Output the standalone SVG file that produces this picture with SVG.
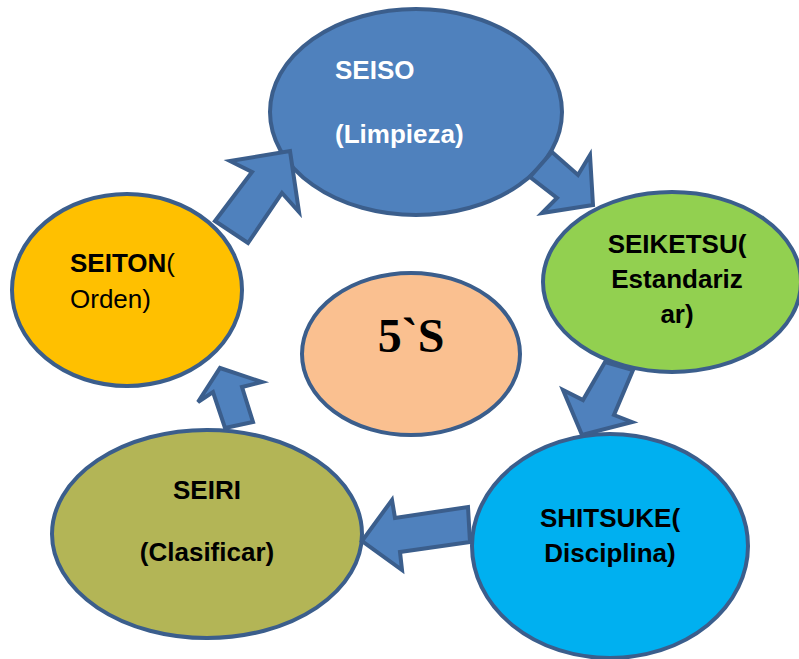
<svg xmlns="http://www.w3.org/2000/svg" width="799" height="659" viewBox="0 0 799 659">
  <style>
    .node { stroke: #3B5E8C; stroke-width: 4; }
    .arrow { fill: #4F81BD; stroke: #3B5E8C; stroke-width: 4; stroke-linejoin: miter; }
    .lbl { font-family: "Liberation Sans", Arial, sans-serif; font-size: 26px; fill: #000; }
    .b { font-weight: bold; }
  </style>
  <rect width="799" height="659" fill="#FFFFFF"/>

  <!-- stages of the cycle -->
  <g id="seiso">
    <ellipse class="node" cx="416" cy="112" rx="146" ry="103" fill="#4F81BD"/>
    <text class="lbl b" x="335" y="79" style="fill:#FFFFFF">SEISO</text>
    <text class="lbl b" x="335" y="143" style="fill:#FFFFFF">(Limpieza)</text>
  </g>
  <g id="seiketsu">
    <ellipse class="node" cx="672" cy="282" rx="129" ry="90" fill="#92D050"/>
    <text class="lbl b" x="677" y="253" text-anchor="middle">SEIKETSU(</text>
    <text class="lbl b" x="677" y="288" text-anchor="middle">Estandariz</text>
    <text class="lbl b" x="677" y="323" text-anchor="middle">ar)</text>
  </g>
  <g id="shitsuke">
    <ellipse class="node" cx="610" cy="546" rx="138" ry="112" fill="#00B0F0"/>
    <text class="lbl b" x="610" y="527" text-anchor="middle">SHITSUKE(</text>
    <text class="lbl b" x="610" y="562" text-anchor="middle">Disciplina)</text>
  </g>
  <g id="seiri">
    <ellipse class="node" cx="207" cy="534" rx="155" ry="104" fill="#B3B556"/>
    <text class="lbl b" x="207" y="499" text-anchor="middle">SEIRI</text>
    <text class="lbl b" x="207" y="561" text-anchor="middle">(Clasificar)</text>
  </g>
  <g id="seiton">
    <ellipse class="node" cx="127" cy="290" rx="115" ry="96" fill="#FFC000"/>
    <text class="lbl" x="70" y="272"><tspan class="b">SEITON</tspan>(</text>
    <text class="lbl" x="70" y="308">Orden)</text>
  </g>
  <g id="center">
    <ellipse class="node" cx="411" cy="354" rx="109" ry="81" fill="#FAC090"/>
    <text x="411" y="352" text-anchor="middle" font-family="'Liberation Serif', 'Times New Roman', serif" font-weight="bold" font-size="48" fill="#000">5`S</text>
  </g>

  <!-- block arrows between stages -->
  <g id="connectors">
    <polygon class="arrow" points="215,221 248,243 282,193 299,212 290,151 230,161 252,172"/>
    <polygon class="arrow" points="552,152 530,177 557,198 542,213 593,205 590,155 578,175"/>
    <polygon class="arrow" points="605,362 633,370 614,415 632,422 582,435 563,390 583,400"/>
    <polygon class="arrow" points="468,507 470,542 400,552 402,570 362,541 392,500 395,518"/>
    <polygon class="arrow" points="225,428 253,422 242,387 262,382 220,368 198,402 213,392"/>
  </g>
</svg>
